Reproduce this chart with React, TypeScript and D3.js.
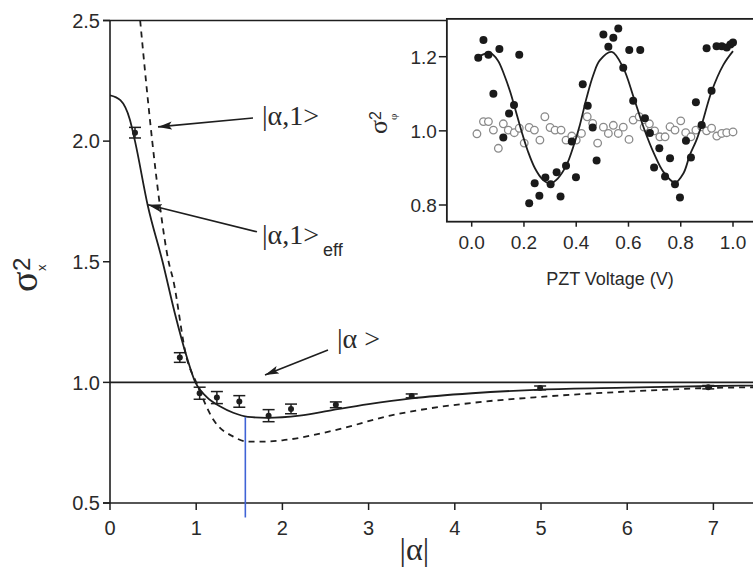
import React from "react";
import * as d3 from "d3";

const W = 753;
const H = 567;

// main panel: measured sigma_x^2 vs |alpha|
const alphaPts = [0.29, 0.81, 1.04, 1.24, 1.5, 1.84, 2.1, 2.62, 3.5, 4.99, 6.94];
const sigmaPts = [2.035, 1.103, 0.955, 0.937, 0.921, 0.862, 0.89, 0.907, 0.944, 0.977, 0.98];
const sigmaErr = [0.022, 0.02, 0.025, 0.025, 0.024, 0.025, 0.02, 0.012, 0.008, 0.008, 0.007];

// solid curve |a,1>_eff
const effAlpha = [0, 0.12, 0.23, 0.29, 0.44, 0.61, 0.75, 0.89, 0.99, 1.12, 1.28, 1.43, 1.6, 1.82, 2.2, 2.59, 3.0, 3.5, 4.2, 5.0, 6.0, 7.0, 7.5];
const effSigma = [2.19, 2.17, 2.09, 2.0, 1.73, 1.5, 1.29, 1.106, 1.0, 0.94, 0.9, 0.874, 0.857, 0.853, 0.862, 0.886, 0.91, 0.934, 0.955, 0.97, 0.978, 0.985, 0.987];

// dashed curve |a,1>
const idealAlpha = [0.35, 0.42, 0.49, 0.58, 0.68, 0.73, 0.89, 1.0, 1.2, 1.43, 1.59, 1.74, 2.0, 2.59, 3.25, 3.6, 4.2, 5.0, 6.0, 7.0, 7.5];
const idealSigma = [2.5, 2.24, 2.0, 1.73, 1.5, 1.43, 1.1, 1.0, 0.845, 0.775, 0.755, 0.754, 0.76, 0.8, 0.862, 0.886, 0.915, 0.94, 0.962, 0.977, 0.98];

const mainXTicks = [0, 1, 2, 3, 4, 5, 6, 7];
const mainYTicks = [0.5, 1.0, 1.5, 2.0, 2.5];
const coherentLevel = 1.0;
const markerAlpha = 1.57;

// inset: sigma_phi^2 vs PZT voltage
const pztV = [0.025, 0.045, 0.064, 0.083, 0.106, 0.121, 0.143, 0.162, 0.182, 0.22, 0.241, 0.259, 0.282, 0.302, 0.325, 0.34, 0.361, 0.383, 0.399, 0.425, 0.444, 0.463, 0.478, 0.504, 0.523, 0.542, 0.561, 0.58, 0.603, 0.618, 0.645, 0.663, 0.682, 0.698, 0.718, 0.74, 0.759, 0.778, 0.797, 0.82, 0.839, 0.858, 0.88, 0.899, 0.918, 0.937, 0.957, 0.976, 0.99, 1.0];
const pztSq = [1.197, 1.245, 1.205, 1.1, 1.221, 0.982, 1.047, 1.07, 1.205, 0.805, 0.859, 0.825, 0.874, 0.856, 0.888, 0.823, 0.906, 0.971, 0.875, 1.126, 1.068, 1.009, 0.92, 1.26, 1.227, 1.251, 1.276, 1.17, 1.218, 1.081, 1.218, 1.034, 0.994, 0.901, 0.953, 0.877, 0.926, 0.856, 0.82, 0.973, 0.928, 1.077, 1.016, 1.223, 1.108, 1.228, 1.228, 1.225, 1.233, 1.238];

const refV = [0.02, 0.045, 0.064, 0.083, 0.102, 0.121, 0.14, 0.163, 0.182, 0.201, 0.22, 0.24, 0.261, 0.28, 0.3, 0.319, 0.342, 0.361, 0.383, 0.4, 0.42, 0.442, 0.463, 0.482, 0.504, 0.523, 0.542, 0.561, 0.58, 0.602, 0.618, 0.641, 0.66, 0.68, 0.7, 0.72, 0.74, 0.759, 0.778, 0.8, 0.819, 0.839, 0.858, 0.88, 0.899, 0.918, 0.938, 0.957, 0.976, 1.0];
const refSq = [0.992, 1.025, 1.025, 1.002, 0.953, 1.019, 1.002, 0.995, 1.007, 0.967, 1.009, 1.002, 0.975, 1.038, 1.009, 1.002, 1.002, 0.975, 0.986, 0.975, 0.993, 1.038, 1.02, 0.967, 1.01, 0.993, 1.015, 0.993, 1.01, 0.977, 1.029, 1.038, 1.01, 1.019, 1.0, 0.984, 0.984, 1.011, 1.002, 1.027, 0.995, 0.984, 1.002, 1.011, 1.0, 1.007, 0.986, 0.993, 0.995, 0.997];

const fitV = [0.015, 0.04, 0.07, 0.1, 0.125, 0.147, 0.17, 0.191, 0.215, 0.242, 0.27, 0.3, 0.33, 0.363, 0.39, 0.414, 0.44, 0.465, 0.49, 0.536, 0.58, 0.62, 0.66, 0.7, 0.733, 0.778, 0.81, 0.835, 0.86, 0.88, 0.918, 0.963, 1.0];
const fitSq = [1.19, 1.205, 1.21, 1.19, 1.15, 1.106, 1.05, 0.998, 0.945, 0.899, 0.87, 0.858, 0.872, 0.908, 0.96, 1.016, 1.09, 1.15, 1.19, 1.213, 1.17, 1.09, 1.005, 0.935, 0.89, 0.86, 0.885, 0.935, 0.975, 1.016, 1.106, 1.178, 1.215];

const insetXTicks = [0, 0.2, 0.4, 0.6, 0.8, 1.0];
const insetYTicks = [0.8, 1.0, 1.2];
const insetVLim = [-0.095, 1.12];
const insetSqLim = [0.755, 1.302];

const annotations = [
  { label: "|α,1>", sub: "", tip: [0.557, 2.059], tail: [1.659, 2.096], at: [1.763, 2.067] },
  { label: "|α,1>", sub: "eff", tip: [0.441, 1.736], tail: [1.705, 1.624], at: [1.763, 1.574] },
  { label: "|α >", sub: "", tip: [1.798, 1.031], tail: [2.529, 1.134], at: [2.633, 1.143] },
];

const INK = "#1e1e1e";
const SANS = "'Liberation Sans', Arial, sans-serif";
const SERIF = "'Liberation Serif', 'Times New Roman', serif";

export default function App() {
  const x = d3.scaleLinear().domain([0, 7]).range([110, 713.4]);
  const y = d3.scaleLinear().domain([0.5, 2.5]).range([503, 20.5]);
  const xEnd = W;

  const ix = d3.scaleLinear().domain([0, 1]).range([471.7, 733]);
  const iy = d3.scaleLinear().domain([0.8, 1.2]).range([205, 56.7]);

  const effLine = d3
    .line<number>()
    .x((d) => x(d))
    .y((d, i) => y(effSigma[i]))
    .curve(d3.curveMonotoneX);
  const idealLine = d3
    .line<number>()
    .x((d) => x(d))
    .y((d, i) => y(idealSigma[i]))
    .curve(d3.curveMonotoneX);
  const fitLine = d3
    .line<number>()
    .x((d) => ix(d))
    .y((d, i) => iy(fitSq[i]))
    .curve(d3.curveCatmullRom.alpha(0.5));

  const fmt1 = d3.format(".1f");

  const fL = ix(insetVLim[0]);
  const fR = ix(insetVLim[1]);
  const fT = iy(insetSqLim[1]);
  const fB = iy(insetSqLim[0]);

  return (
    <svg
      width={W}
      height={H}
      style={{ position: "absolute", left: 0, top: 0, background: "#fff" }}
    >
      <defs>
        <marker
          id="arr"
          markerUnits="userSpaceOnUse"
          markerWidth={16}
          markerHeight={10}
          refX={14}
          refY={4}
          orient="auto"
        >
          <path d="M0,0 L14,4 L0,8 L3,4 Z" fill={INK} />
        </marker>
        <clipPath id="mainClip">
          <rect x={x(0)} y={y(2.5)} width={xEnd - x(0)} height={y(0.5) - y(2.5)} />
        </clipPath>
      </defs>

      {/* main frame */}
      <g stroke={INK} strokeWidth={1.6} fill="none">
        <line x1={x(0)} x2={x(0)} y1={y(2.5)} y2={y(0.5)} />
        <line x1={x(0) - 7} x2={xEnd} y1={y(0.5)} y2={y(0.5)} />
        <line x1={x(0) - 7} x2={xEnd} y1={y(2.5)} y2={y(2.5)} />
        <line x1={x(0)} x2={xEnd} y1={y(coherentLevel)} y2={y(coherentLevel)} />
      </g>

      {/* main ticks */}
      {mainYTicks.map((t) => (
        <g key={"my" + t}>
          <line x1={x(0) - 7} x2={x(0)} y1={y(t)} y2={y(t)} stroke={INK} strokeWidth={1.5} />
          <text
            x={x(0) - 10}
            y={y(t)}
            dy="0.36em"
            textAnchor="end"
            fontFamily={SANS}
            fontSize={20}
            fill="#2a2a2a"
          >
            {fmt1(t)}
          </text>
        </g>
      ))}
      {mainXTicks.map((t) => (
        <g key={"mx" + t}>
          <line x1={x(t)} x2={x(t)} y1={y(0.5)} y2={y(0.5) + 7} stroke={INK} strokeWidth={1.5} />
          <text
            x={x(t)}
            y={y(0.5) + 32}
            textAnchor="middle"
            fontFamily={SANS}
            fontSize={20}
            fill="#2a2a2a"
          >
            {t}
          </text>
        </g>
      ))}

      {/* axis titles */}
      <text x={x(3.53)} y={560} textAnchor="middle" fontFamily={SERIF} fontSize={32} fill="#2a2a2a">
        |α|
      </text>
      <g transform="translate(37,292) rotate(-90)" fill="#2a2a2a">
        <text x={0} y={0} fontFamily={SERIF} fontSize={38}>σ</text>
        <text x={21} y={-7} fontFamily={SANS} fontSize={24}>2</text>
        <text x={21} y={9} fontFamily={SANS} fontSize={13}>x</text>
      </g>

      {/* curves */}
      <g clipPath="url(#mainClip)" fill="none" stroke={INK} strokeWidth={1.8}>
        <path d={idealLine(idealAlpha) || ""} strokeDasharray="6,5" />
        <path d={effLine(effAlpha) || ""} />
      </g>

      {/* blue marker line */}
      <line
        x1={x(markerAlpha)}
        x2={x(markerAlpha)}
        y1={y(0.856)}
        y2={y(0.44)}
        stroke="#3f63d6"
        strokeWidth={1.6}
      />

      {/* data with error bars */}
      {alphaPts.map((a, i) => {
        const cx = x(a);
        const top = y(sigmaPts[i] + sigmaErr[i]);
        const bot = y(sigmaPts[i] - sigmaErr[i]);
        return (
          <g key={"p" + i} stroke={INK} strokeWidth={1.5}>
            <line x1={cx} x2={cx} y1={top} y2={bot} />
            <line x1={cx - 6} x2={cx + 6} y1={top} y2={top} />
            <line x1={cx - 6} x2={cx + 6} y1={bot} y2={bot} />
            <circle cx={cx} cy={y(sigmaPts[i])} r={3} fill={INK} stroke="none" />
          </g>
        );
      })}

      {/* annotations */}
      {annotations.map((an, i) => (
        <g key={"an" + i}>
          <line
            x1={x(an.tail[0])}
            y1={y(an.tail[1])}
            x2={x(an.tip[0])}
            y2={y(an.tip[1])}
            stroke={INK}
            strokeWidth={1.6}
            markerEnd="url(#arr)"
          />
          <text x={x(an.at[0])} y={y(an.at[1])} fontFamily={SERIF} fontSize={28} fill="#2a2a2a">
            {an.label}
            {an.sub ? (
              <tspan dx={4} dy={12} fontFamily={SANS} fontSize={18}>
                {an.sub}
              </tspan>
            ) : null}
          </text>
        </g>
      ))}

      {/* inset */}
      <rect x={fL} y={fT} width={fR - fL} height={fB - fT} fill="#fff" stroke={INK} strokeWidth={1.8} />
      {insetYTicks.map((t) => (
        <g key={"iy" + t}>
          <line x1={fL - 8} x2={fL} y1={iy(t)} y2={iy(t)} stroke={INK} strokeWidth={1.5} />
          <text
            x={fL - 10}
            y={iy(t)}
            dy="0.36em"
            textAnchor="end"
            fontFamily={SANS}
            fontSize={19}
            fill="#2a2a2a"
          >
            {fmt1(t)}
          </text>
        </g>
      ))}
      {insetXTicks.map((t) => (
        <g key={"ix" + t}>
          <line x1={ix(t)} x2={ix(t)} y1={fB} y2={fB + 5} stroke={INK} strokeWidth={1.5} />
          <text
            x={ix(t)}
            y={fB + 27}
            textAnchor="middle"
            fontFamily={SANS}
            fontSize={19}
            fill="#2a2a2a"
          >
            {fmt1(t)}
          </text>
        </g>
      ))}
      <text x={610} y={285} textAnchor="middle" fontFamily={SANS} fontSize={18} fill="#2a2a2a">
        PZT Voltage (V)
      </text>
      <g transform="translate(387,134) rotate(-90)" fill="#2a2a2a">
        <text x={0} y={0} fontFamily={SERIF} fontSize={26}>σ</text>
        <text x={14} y={-6} fontFamily={SANS} fontSize={16}>2</text>
        <text x={14} y={10} fontFamily={SERIF} fontSize={11}>φ</text>
      </g>

      {refV.map((v, i) => (
        <circle key={"r" + i} cx={ix(v)} cy={iy(refSq[i])} r={3.8} fill="#fff" stroke="#8a8a8a" strokeWidth={1.3} />
      ))}
      <path d={fitLine(fitV) || ""} fill="none" stroke={INK} strokeWidth={1.8} />
      {pztV.map((v, i) => (
        <circle key={"f" + i} cx={ix(v)} cy={iy(pztSq[i])} r={4} fill="#1a1a1a" />
      ))}
    </svg>
  );
}
